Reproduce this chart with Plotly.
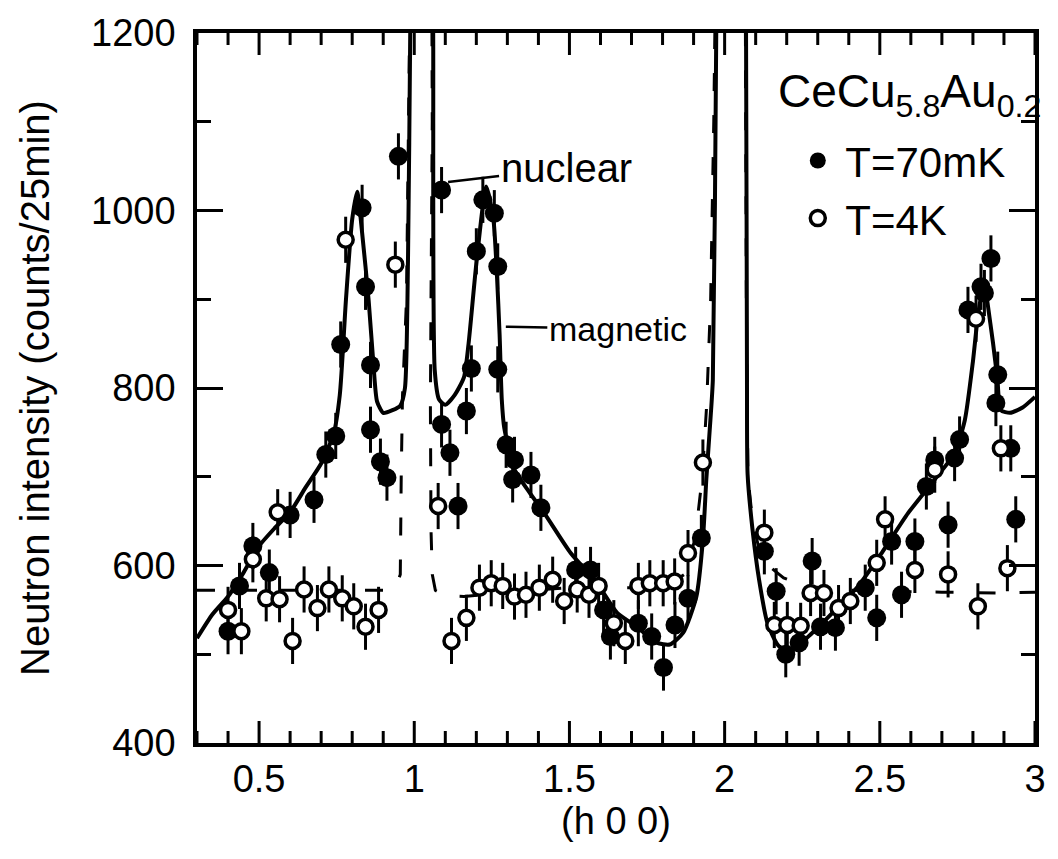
import plotly.graph_objects as go

# ---- measured intensities, CeCu5.8Au0.2, scan along (h 0 0) ----
h_70mk = [0.400, 0.437, 0.480, 0.533, 0.600, 0.677, 0.715, 0.747, 0.763, 0.832,
          0.843, 0.859, 0.859, 0.891, 0.912, 0.949, 1.088, 1.088, 1.115, 1.141,
          1.168, 1.184, 1.200, 1.221, 1.258, 1.269, 1.269, 1.296, 1.317, 1.323,
          1.376, 1.408, 1.520, 1.568, 1.610, 1.632, 1.722, 1.765, 1.803, 1.840,
          1.882, 1.925, 2.128, 2.166, 2.197, 2.240, 2.282, 2.309, 2.357, 2.453,
          2.490, 2.538, 2.570, 2.613, 2.650, 2.677, 2.720, 2.741, 2.757, 2.784,
          2.826, 2.837, 2.858, 2.874, 2.880, 2.922, 2.938]
i_70mk = [526, 577, 622, 592, 657, 674, 725, 746, 849, 1003,
          914, 826, 753, 717, 699, 1061, 1023, 759, 727, 667,
          774, 822, 954, 1012, 997, 937, 821, 736, 697, 719,
          702, 665, 595, 595, 550, 520, 535, 520, 485, 533,
          563, 631, 616, 571, 500, 513, 605, 531, 530, 575,
          541, 627, 567, 627, 689, 719, 646, 721, 742, 888,
          914, 907, 946, 783, 815, 732, 652]

h_4k = [0.400, 0.443, 0.480, 0.523, 0.560, 0.566, 0.608, 0.645, 0.688, 0.725,
        0.768, 0.779, 0.805, 0.843, 0.885, 0.939, 1.077, 1.120, 1.168, 1.210,
        1.248, 1.285, 1.323, 1.360, 1.403, 1.446, 1.483, 1.525, 1.563, 1.594,
        1.643, 1.680, 1.722, 1.759, 1.802, 1.839, 1.882, 1.930, 2.128, 2.160,
        2.202, 2.245, 2.277, 2.320, 2.367, 2.405, 2.490, 2.517, 2.613, 2.677,
        2.720, 2.810, 2.816, 2.890, 2.911]
i_4k = [550, 526, 607, 563, 660, 562, 515, 573, 552, 573,
        563, 967, 554, 531, 550, 939, 667, 515, 541, 575,
        580, 577, 565, 567, 575, 584, 560, 573, 567, 577,
        535, 515, 577, 580, 580, 582, 614, 716, 637, 533,
        533, 532, 569, 569, 552, 560, 603, 652, 595, 708,
        590, 878, 554, 732, 597]

# counting error (counts/25min)
err_counts = 26

# ---- fitted profiles (None separates the branches that leave the top of the frame) ----
fit_70mk_h = [0.300, 0.350, 0.400, 0.450, 0.500, 0.550, 0.600, 0.650, 0.700, 0.740,
              0.760, 0.780, 0.800, 0.816, 0.832, 0.853, 0.869, 0.880, 0.900, 0.930,
              0.955, 0.970, 0.980, 0.987, 0.992, None,
              1.056, 1.061, 1.066, 1.080, 1.100, 1.130, 1.160, 1.175, 1.200, 1.232,
              1.255, 1.266, 1.275, 1.282, 1.290, 1.323, 1.370, 1.419, 1.504, 1.589,
              1.653, 1.717, 1.781, 1.823, 1.866, 1.909, 1.930, 1.941, 1.952, 1.962,
              1.973, 1.978, None,
              2.064, 2.069, 2.072, 2.074, 2.090, 2.111, 2.138, 2.175, 2.218, 2.282,
              2.357, 2.431, 2.506, 2.591, 2.677, 2.740, 2.774, 2.800, 2.816, 2.837,
              2.847, 2.865, 2.879, 2.890, 2.920, 2.960, 3.000]
fit_70mk_i = [518, 545, 565, 592, 622, 642, 660, 688, 715, 748,
              792, 900, 990, 1021, 975, 899, 824, 785, 772, 775,
              780, 800, 950, 1200, 1400, None,
              1400, 1200, 820, 787, 781, 792, 812, 850, 940, 1027,
              990, 930, 860, 787, 755, 708, 683, 659, 614, 580,
              547, 531, 513, 511, 524, 565, 629, 697, 753, 809,
              1200, 1400, None,
              1400, 1200, 809, 703, 640, 584, 535, 509, 505, 524,
              550, 577, 614, 659, 697, 726, 764, 830, 881, 922,
              896, 850, 809, 775, 772, 778, 790]

fit_4k_h = [0.300, 0.500, 0.700, 0.900, 0.940, 0.955, 0.958, 0.962, 0.975, 0.984, 0.988, None,
            1.056, 1.058, 1.054, 1.052, 1.054, 1.058, 1.068, 1.100, 1.160, 1.300, 1.500,
            1.700, 1.820, 1.870, 1.905, 1.928, 1.942, 1.955, 1.965, 1.972, None,
            2.066, 2.070, 2.075, 2.090, 2.110, 2.140, 2.190, 2.250, 2.350, 2.500,
            2.700, 2.900, 3.000]
fit_4k_i = [572, 572, 572, 572, 575, 590, 700, 790, 900, 1150, 1300, None,
            1300, 1100, 900, 780, 640, 590, 572, 566, 565, 570, 575,
            575, 578, 590, 630, 700, 780, 900, 1100, 1300, None,
            1300, 900, 700, 650, 620, 600, 586, 578, 573, 571,
            570, 569, 570]

# axis ticks
x_range = [0.3, 3.0]
x_major_ticks = [0.5, 1.0, 1.5, 2.0, 2.5, 3.0]
x_tick_labels = ["0.5", "1", "1.5", "2", "2.5", "3"]
x_minor_ticks = [0.3, 0.4, 0.6, 0.7, 0.8, 0.9, 1.1, 1.2, 1.3, 1.4, 1.6, 1.7, 1.8, 1.9,
                 2.1, 2.2, 2.3, 2.4, 2.6, 2.7, 2.8, 2.9]
y_range = [400, 1200]
y_major_step = 200
y_minor_step = 100

FONT = "Liberation Sans, Arial, Helvetica, sans-serif"

fig = go.Figure()

fig.add_trace(go.Scatter(
    x=fit_4k_h, y=fit_4k_i, mode="lines", showlegend=False, hoverinfo="skip",
    line=dict(color="black", width=3, dash="18px,24px"),
))
fig.add_trace(go.Scatter(
    x=fit_70mk_h, y=fit_70mk_i, mode="lines", showlegend=False, hoverinfo="skip",
    line=dict(color="black", width=4, shape="spline", smoothing=0.6),
))
fig.add_trace(go.Scatter(
    x=h_70mk, y=i_70mk, mode="markers", name="T=70mK",
    marker=dict(symbol="circle", size=19, color="black", line=dict(width=0)),
    error_y=dict(type="constant", value=err_counts, color="black", thickness=3, width=0),
))
fig.add_trace(go.Scatter(
    x=h_4k, y=i_4k, mode="markers", name="T=4K",
    marker=dict(symbol="circle", size=15, color="white", line=dict(width=3.5, color="black")),
    error_y=dict(type="constant", value=err_counts, color="black", thickness=3, width=0),
))

# h-axis tick marks on the bottom and top frame edges, pointing into the frame
for ticks, length in ((x_major_ticks, 22), (x_minor_ticks, 12)):
    for h in ticks:
        for edge, sign in ((y_range[0], 1), (y_range[1], -1)):
            fig.add_shape(
                type="line", xref="x", yref="y", x0=h, x1=h,
                ysizemode="pixel", yanchor=edge, y0=0, y1=sign * length,
                line=dict(color="black", width=3), layer="above",
            )

# hand-labelled peak families
fig.add_annotation(
    x=1.109, y=1032, xref="x", yref="y", text="nuclear", showarrow=True,
    arrowhead=0, arrowwidth=2.5, arrowcolor="black", ax=118, ay=-14,
    font=dict(family=FONT, size=40, color="black"),
)
fig.add_annotation(
    x=1.295, y=869, xref="x", yref="y", text="magnetic", showarrow=True,
    arrowhead=0, arrowwidth=2.5, arrowcolor="black", ax=112, ay=2,
    font=dict(family=FONT, size=34, color="black"),
)
# sample name above the legend entries
fig.add_annotation(
    x=1.0, y=0.913, xref="paper", yref="paper", xanchor="right", yanchor="middle",
    xshift=8, text="CeCu<sub>5.8</sub>Au<sub>0.2</sub>", showarrow=False,
    font=dict(family=FONT, size=46, color="black"),
)

fig.update_xaxes(
    range=x_range, tickmode="array", tickvals=x_major_ticks, ticktext=x_tick_labels,
    ticks="", showline=True, linewidth=3.5, linecolor="black", mirror=True,
    showgrid=False, zeroline=False,
    tickfont=dict(family=FONT, size=38, color="black"),
    title=dict(text="(h 0 0)", font=dict(family=FONT, size=38, color="black"), standoff=6),
)
fig.update_yaxes(
    range=y_range, tickmode="linear", tick0=0, dtick=y_major_step,
    ticks="inside", ticklen=26, tickwidth=3, tickcolor="black",
    minor=dict(ticks="inside", tick0=0, dtick=y_minor_step, ticklen=14, tickwidth=3,
               tickcolor="black", showgrid=False),
    showline=True, linewidth=3.5, linecolor="black", mirror="ticks",
    showgrid=False, zeroline=False,
    tickfont=dict(family=FONT, size=38, color="black"),
    ticklabelstandoff=10,
    title=dict(text="Neutron intensity (counts/25min)",
               font=dict(family=FONT, size=40, color="black"), standoff=30),
)

fig.update_layout(
    width=1058, height=859,
    margin=dict(l=197, r=15, t=33, b=116),
    paper_bgcolor="white", plot_bgcolor="white",
    legend=dict(
        font=dict(family=FONT, size=42, color="black"),
        x=0.708, xanchor="left", y=0.868, yanchor="top",
        bgcolor="rgba(0,0,0,0)", itemsizing="trace", itemwidth=45,
        tracegroupgap=0,
    ),
)

fig.write_html("out.html")
